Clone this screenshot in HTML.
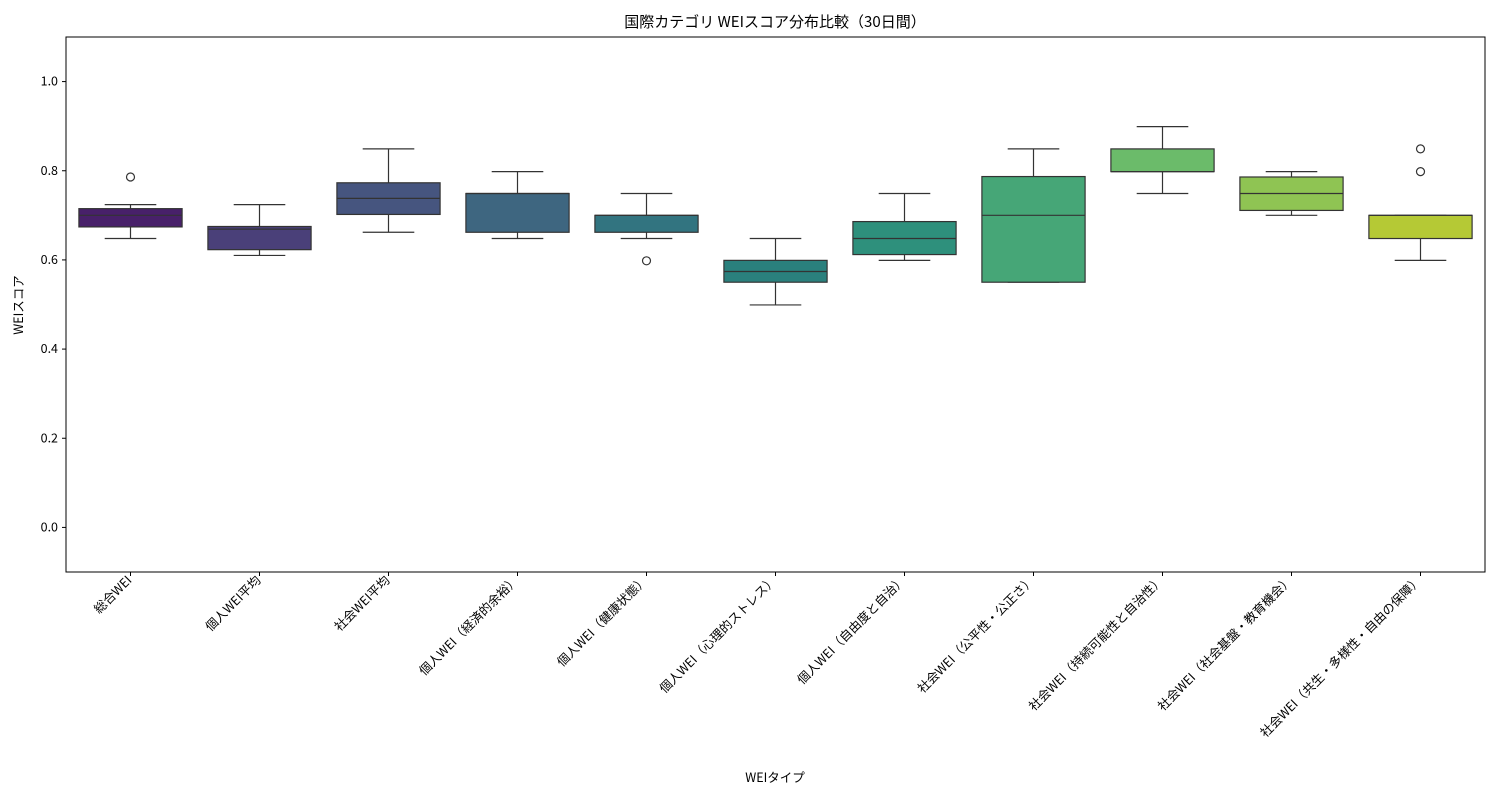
<!DOCTYPE html>
<html><head><meta charset="utf-8"><style>
body{margin:0;background:#fff}
svg text{font-family:"Noto Sans CJK JP","Liberation Sans",sans-serif;fill:#000}
</style></head><body>
<svg id="c" width="1500" height="800" xmlns="http://www.w3.org/2000/svg">
<rect x="0" y="0" width="1500" height="800" fill="#fff"/>
<text x="775" y="27" font-size="15" text-anchor="middle">国際カテゴリ WEIスコア分布比較（30日間）</text>
<text x="775" y="782" font-size="12.5" text-anchor="middle">WEIタイプ</text>
<text transform="translate(23,305) rotate(-90)" font-size="12.5" text-anchor="middle">WEIスコア</text>
<g id="plot"></g>
<rect x="66" y="37" width="1419" height="535" fill="none" stroke="#000" stroke-width="1"/>
</svg>
<script>
const categories=["総合WEI","個人WEI平均","社会WEI平均","個人WEI（経済的余裕）","個人WEI（健康状態）","個人WEI（心理的ストレス）","個人WEI（自由度と自治）","社会WEI（公平性・公正さ）","社会WEI（持続可能性と自治性）","社会WEI（社会基盤・教育機会）","社会WEI（共生・多様性・自由の保障）"];
const whiskerLow=[0.648,0.610,0.662,0.648,0.648,0.499,0.599,0.550,0.749,0.700,0.599];
const q1=[0.674,0.623,0.702,0.662,0.662,0.550,0.612,0.550,0.798,0.711,0.648];
const median=[0.700,0.669,0.738,0.749,0.700,0.574,0.648,0.700,0.798,0.749,0.700];
const q3=[0.715,0.675,0.773,0.749,0.700,0.599,0.686,0.787,0.849,0.786,0.700];
const whiskerHigh=[0.724,0.724,0.849,0.798,0.749,0.648,0.749,0.849,0.899,0.798,0.700];
const outliers=[[0.786],[],[],[],[0.598],[],[],[],[],[],[0.849,0.798]];
const yTicks=[0.0,0.2,0.4,0.6,0.8,1.0];
const colors=["#48206a","#4a4079","#46557f","#3e6680","#327480","#2a807d","#2e907c","#46a677","#6bbb6a","#8fc453","#b5c935"];
const L=66,R=1485,T=37,B=572,yMin=-0.1,yMax=1.1;
const y=v=>B-(v-yMin)/(yMax-yMin)*(B-T);
const step=(R-L)/categories.length;
const x=i=>L+step*(i+0.5);
const NS="http://www.w3.org/2000/svg";
const g=document.getElementById('plot');
function mk(t,a,p){const e=document.createElementNS(NS,t);for(const k in a)e.setAttribute(k,a[k]);(p||g).appendChild(e);return e;}
yTicks.forEach(v=>{
  const t=mk('line',{x1:L-4,x2:L,y1:y(v),y2:y(v),stroke:'#000'});
  
  
  const l=mk('text',{x:L-8,y:y(v)+4,'font-size':12.5,'text-anchor':'end'});
  l.textContent=v.toFixed(1);
  
  
});
const bw=step*0.8,cap=step*0.4;
categories.forEach((c,i)=>{
  const cx=x(i);
  const grp=mk('g',{});
  
  
  mk('line',{x1:cx,x2:cx,y1:y(whiskerLow[i]),y2:y(q1[i]),stroke:'#333','stroke-width':1.2},grp);
  mk('line',{x1:cx,x2:cx,y1:y(whiskerHigh[i]),y2:y(q3[i]),stroke:'#333','stroke-width':1.2},grp);
  mk('line',{x1:cx-cap/2,x2:cx+cap/2,y1:y(whiskerLow[i]),y2:y(whiskerLow[i]),stroke:'#333','stroke-width':1.2},grp);
  mk('line',{x1:cx-cap/2,x2:cx+cap/2,y1:y(whiskerHigh[i]),y2:y(whiskerHigh[i]),stroke:'#333','stroke-width':1.2},grp);
  mk('rect',{x:cx-bw/2,y:y(q3[i]),width:bw,height:Math.max(0.5,y(q1[i])-y(q3[i])),fill:colors[i],stroke:'#333','stroke-width':1.2},grp);
  mk('line',{x1:cx-bw/2,x2:cx+bw/2,y1:y(median[i]),y2:y(median[i]),stroke:'#333','stroke-width':1.2},grp);
  outliers[i].forEach(o=>{
    const p=mk('circle',{cx:cx,cy:y(o),r:4,fill:'none',stroke:'#333','stroke-width':1.2});
    
    
  });
  const t=mk('line',{x1:cx,x2:cx,y1:B,y2:B+4,stroke:'#000'});
  
  
  const l=mk('text',{transform:`translate(${cx+2},${B+9}) rotate(-45)`,'font-size':12.5,'text-anchor':'end'});
  l.textContent=c;
  
  
});
</script>
</body></html>
